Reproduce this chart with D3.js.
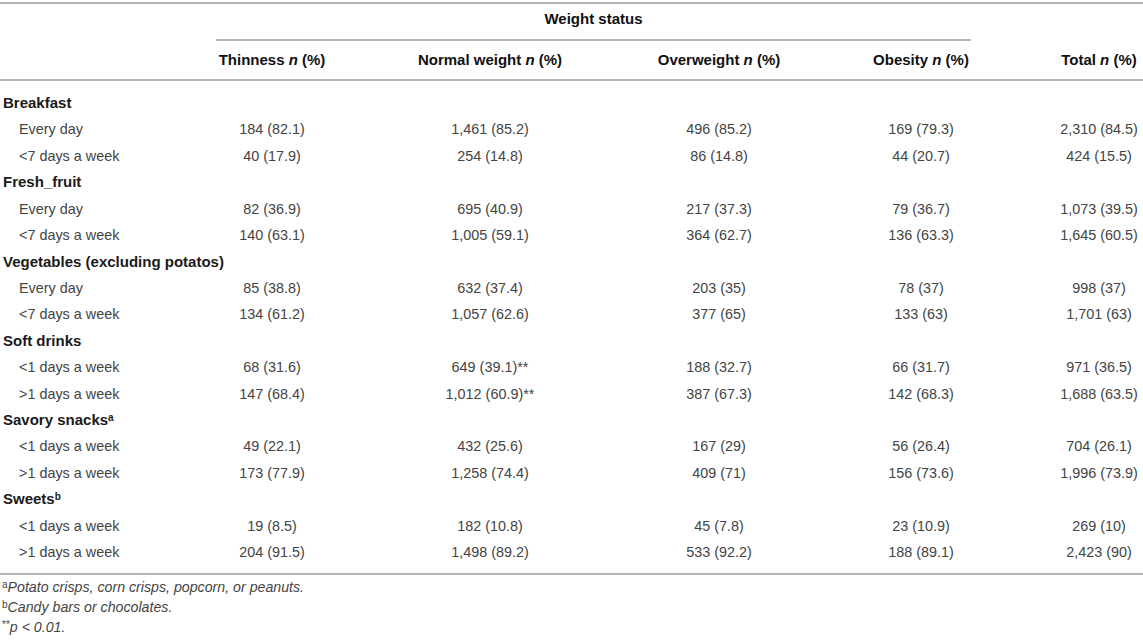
<!DOCTYPE html>
<html lang="en">
<head>
<meta charset="utf-8">
<title>Weight status table</title>
<script src="https://d3js.org/d3.v7.min.js"></script>
<style>
  body { margin: 0; background: #fff; }
  svg text { font-family: "Liberation Sans", Arial, Helvetica, sans-serif; }
  .hdr { font-weight: bold; font-size: 15px; fill: #111; }
  .grp { font-weight: bold; font-size: 15px; fill: #1a1a1a; }
  .sub, .cell { font-size: 14.4px; fill: #444; }
  .note { font-size: 14.2px; font-style: italic; fill: #444; }
  .rule { stroke: #b5b5b5; stroke-width: 2; }
</style>
</head>
<body>
<script>
const w = 1143;
const h = 642;

// table content
const groups = ["Breakfast", "Fresh_fruit", "Vegetables (excluding potatos)", "Soft drinks", "Savory snacks", "Sweets"];
const groupSup = ["", "", "", "", "a", "b"];
const subLabels = [
  ["Every day", "<7 days a week"],
  ["Every day", "<7 days a week"],
  ["Every day", "<7 days a week"],
  ["<1 days a week", ">1 days a week"],
  ["<1 days a week", ">1 days a week"],
  ["<1 days a week", ">1 days a week"]
];
const columns = ["Thinness", "Normal weight", "Overweight", "Obesity", "Total"];

const thinnessN   = [184, 40, 82, 140, 85, 134, 68, 147, 49, 173, 19, 204];
const thinnessPct = [82.1, 17.9, 36.9, 63.1, 38.8, 61.2, 31.6, 68.4, 22.1, 77.9, 8.5, 91.5];
const normalN     = [1461, 254, 695, 1005, 632, 1057, 649, 1012, 432, 1258, 182, 1498];
const normalPct   = [85.2, 14.8, 40.9, 59.1, 37.4, 62.6, 39.1, 60.9, 25.6, 74.4, 10.8, 89.2];
const normalMark  = ["", "", "", "", "", "", "**", "**", "", "", "", ""];
const overN       = [496, 86, 217, 364, 203, 377, 188, 387, 167, 409, 45, 533];
const overPct     = [85.2, 14.8, 37.3, 62.7, 35, 65, 32.7, 67.3, 29, 71, 7.8, 92.2];
const obeseN      = [169, 44, 79, 136, 78, 133, 66, 142, 56, 156, 23, 188];
const obesePct    = [79.3, 20.7, 36.7, 63.3, 37, 63, 31.7, 68.3, 26.4, 73.6, 10.9, 89.1];
const totalN      = [2310, 424, 1073, 1645, 998, 1701, 971, 1688, 704, 1996, 269, 2423];
const totalPct    = [84.5, 15.5, 39.5, 60.5, 37, 63, 36.5, 63.5, 26.1, 73.9, 10, 90];

const footnotes = [
  {sup: "a", text: "Potato crisps, corn crisps, popcorn, or peanuts."},
  {sup: "b", text: "Candy bars or chocolates."},
  {sup: "**", text: "p < 0.01."}
];

const fmt = d3.format(",");
const colN = [thinnessN, normalN, overN, obeseN, totalN];
const colPct = [thinnessPct, normalPct, overPct, obesePct, totalPct];
const colMark = [null, normalMark, null, null, null];

// rows: a group label line followed by its two sub lines
const rows = [];
groups.forEach((g, gi) => {
  rows.push({type: "grp", label: g, sup: groupSup[gi]});
  subLabels[gi].forEach((s, si) => rows.push({type: "sub", label: s, k: gi * 2 + si}));
});

const yScale = d3.scaleLinear().domain([0, rows.length - 1]).range([103, 552]);
const xScale = d3.scaleOrdinal().domain(columns).range([272, 490, 719, 921, 1099]);

const svg = d3.select("body").append("svg")
  .attr("width", w)
  .attr("height", h);

// rules
svg.append("line").attr("class", "rule").attr("x1", 0).attr("x2", w).attr("y1", 3).attr("y2", 3);
svg.append("line").attr("class", "rule").attr("x1", 216).attr("x2", 971).attr("y1", 40).attr("y2", 40);
svg.append("line").attr("class", "rule").attr("x1", 0).attr("x2", w).attr("y1", 80).attr("y2", 80);
svg.append("line").attr("class", "rule").attr("x1", 0).attr("x2", w).attr("y1", 574).attr("y2", 574);

// header
svg.append("text")
  .attr("class", "hdr")
  .attr("x", (216 + 971) / 2)
  .attr("y", 19)
  .attr("dy", ".35em")
  .attr("text-anchor", "middle")
  .text("Weight status");

const heads = svg.selectAll("text.colhead")
  .data(columns)
  .enter().append("text")
  .attr("class", "hdr colhead")
  .attr("x", d => xScale(d))
  .attr("y", 60)
  .attr("dy", ".35em")
  .attr("text-anchor", "middle");
heads.append("tspan").text(d => d + " ");
heads.append("tspan").style("font-style", "italic").text("n");
heads.append("tspan").text(" (%)");

// row labels
const labels = svg.selectAll("text.rowlabel")
  .data(rows)
  .enter().append("text")
  .attr("class", d => "rowlabel " + d.type)
  .attr("x", d => d.type === "grp" ? 3 : 19)
  .attr("y", (d, i) => yScale(i))
  .attr("dy", ".35em");
labels.append("tspan").text(d => d.label);
labels.filter(d => d.sup).append("tspan")
  .attr("font-size", "10px")
  .attr("dy", "-0.45em")
  .text(d => d.sup);

// cells
const subRows = rows.map((r, i) => ({r, i})).filter(d => d.r.type === "sub");
columns.forEach((c, ci) => {
  svg.selectAll("text.cell-" + ci)
    .data(subRows)
    .enter().append("text")
    .attr("class", "cell cell-" + ci)
    .attr("x", xScale(c))
    .attr("y", d => yScale(d.i))
    .attr("dy", ".35em")
    .attr("text-anchor", "middle")
    .text(d => {
      const k = d.r.k;
      const mark = colMark[ci] ? colMark[ci][k] : "";
      return fmt(colN[ci][k]) + " (" + colPct[ci][k] + ")" + mark;
    });
});

// footnotes
const notes = svg.selectAll("text.note")
  .data(footnotes)
  .enter().append("text")
  .attr("class", "note")
  .attr("x", 2)
  .attr("y", (d, i) => 591 + i * 20)
  .attr("dy", ".35em");
notes.append("tspan")
  .attr("font-size", "10px")
  .attr("font-style", "normal")
  .attr("dy", "-0.35em")
  .text(d => d.sup);
notes.append("tspan")
  .attr("dy", "0.35em")
  .text(d => d.text);
</script>
</body>
</html>
